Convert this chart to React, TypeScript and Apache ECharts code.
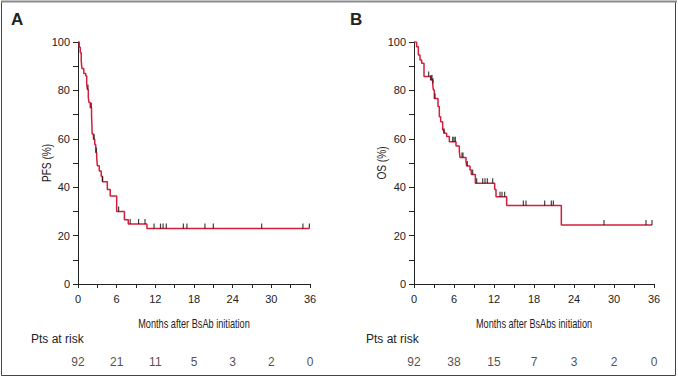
import React, { useEffect, useRef } from "react";
import * as echarts from "echarts";

// PFS (panel A) Kaplan-Meier steps
const pfsTimes = [0, 0.2, 0.35, 0.5, 0.6, 0.9, 1.2, 1.35, 1.45, 1.6, 1.7, 1.9, 2.1, 2.15, 2.2, 2.4, 2.6, 2.75, 2.9, 3.0, 3.3, 3.6, 3.8, 4.55, 5.0, 6.0, 7.2, 7.8, 10.7, 35.9];
const pfsSurv = [100, 97.8, 95.6, 92.4, 89.1, 87.0, 85.9, 82.6, 80.4, 77.2, 75.0, 72.8, 69.6, 66.3, 62.0, 59.8, 57.6, 54.3, 52.2, 48.9, 46.7, 44.5, 42.3, 39.1, 36.4, 30.0, 26.5, 24.8, 22.9, 22.9];
const pfsCensor = [1.55, 2.07, 2.5, 2.85, 3.8, 6.3, 8.1, 9.4, 10.4, 11.8, 12.8, 13.2, 13.7, 16.35, 16.9, 19.7, 21.0, 28.5, 34.9, 35.9];

// OS (panel B) Kaplan-Meier steps
const osTimes = [0, 0.4, 0.65, 0.9, 1.15, 1.5, 2.5, 2.8, 2.9, 3.05, 3.6, 3.8, 4.0, 4.3, 4.5, 4.9, 5.3, 6.3, 6.8, 6.9, 7.8, 7.9, 8.4, 8.6, 9.2, 12.1, 12.3, 13.9, 22.1, 35.7];
const osSurv = [100, 98, 94.6, 92.6, 91.2, 85.7, 84.3, 83.0, 80.2, 76.7, 73.3, 69.1, 67.0, 63.6, 62.3, 60.9, 58.8, 57.0, 54.7, 52.3, 50.5, 48.8, 47.1, 45.2, 41.6, 39.1, 36.1, 32.4, 24.4, 24.4];
const osCensor = [2.2, 2.55, 2.7, 2.85, 3.15, 4.5, 5.8, 6.0, 6.2, 7.2, 7.35, 8.0, 8.8, 9.4, 10.3, 10.65, 11.0, 11.8, 12.9, 13.2, 13.6, 16.4, 16.8, 19.6, 20.6, 20.9, 28.5, 34.8, 35.7];

// Numbers at risk
const riskTimes = [0, 6, 12, 18, 24, 30, 36];
const riskA = [92, 21, 11, 5, 3, 2, 0];
const riskB = [92, 38, 15, 7, 3, 2, 0];

const titleA = "Months after BsAb initiation";
const titleB = "Months after BsAbs initiation";
const yNameA = "PFS (%)";
const yNameB = "OS (%)";

const RED = "#d31f3c";
const TXT = "#222222";
const FONT = '"Liberation Sans", Arial, sans-serif';

function stepValue(times: number[], surv: number[], t: number) {
  let v = surv[0];
  for (let i = 0; i < times.length; i++) {
    if (times[i] <= t) v = surv[i];
  }
  return v;
}

function xAxisMain(gridIndex: number) {
  return {
    type: "value",
    gridIndex,
    min: 0,
    max: 36,
    interval: 3,
    axisLine: { show: true, lineStyle: { color: TXT, width: 1 } },
    axisTick: { show: true, length: 4, lineStyle: { color: TXT } },
    axisLabel: {
      color: TXT,
      fontSize: 11,
      fontFamily: FONT,
      margin: 9,
      formatter: (v: number) => (v % 6 === 0 ? String(v) : ""),
    },
    splitLine: { show: false },
  };
}

function yAxisMain(gridIndex: number) {
  return {
    type: "value",
    gridIndex,
    min: 0,
    max: 100,
    interval: 10,
    axisLine: { show: true, lineStyle: { color: TXT, width: 1 } },
    axisTick: { show: true, length: 5, lineStyle: { color: TXT } },
    axisLabel: {
      color: TXT,
      fontSize: 11,
      fontFamily: FONT,
      margin: 8,
      formatter: (v: number) => (v % 20 === 0 ? String(v) : ""),
    },
    splitLine: { show: false },
  };
}

function hiddenX(gridIndex: number) {
  return { type: "value", gridIndex, min: 0, max: 36, show: false };
}
function hiddenY(gridIndex: number) {
  return { type: "value", gridIndex, min: 0, max: 1, show: false };
}

function kmSeries(idx: number, times: number[], surv: number[]) {
  return {
    type: "line",
    xAxisIndex: idx,
    yAxisIndex: idx,
    step: "end",
    symbol: "none",
    lineStyle: { color: RED, width: 1.5 },
    data: times.map((t, i) => [t, surv[i]]),
    z: 3,
  };
}

function censorSeries(idx: number, censor: number[], times: number[], surv: number[]) {
  return {
    type: "scatter",
    xAxisIndex: idx,
    yAxisIndex: idx,
    symbol: "rect",
    symbolSize: [1.2, 5],
    symbolOffset: [0, -2.5],
    itemStyle: { color: "#111" },
    data: censor.map((t) => [t, stepValue(times, surv, t)]),
    z: 4,
  };
}

function riskSeries(idx: number, values: number[]) {
  return {
    type: "scatter",
    xAxisIndex: idx,
    yAxisIndex: idx,
    symbolSize: 1,
    itemStyle: { color: "rgba(0,0,0,0)" },
    label: {
      show: true,
      position: "inside",
      color: TXT,
      fontSize: 12,
      fontFamily: FONT,
      formatter: (p: any) => String(p.value[2]),
    },
    data: riskTimes.map((t, i) => [t, 0.5, values[i]]),
  };
}

function narrowText(text: string, x: number, y: number, rotate: number, scaleX: number, size: number) {
  return {
    type: "text",
    x,
    y,
    rotation: rotate,
    scaleX,
    silent: true,
    style: {
      text,
      fontSize: size,
      fontFamily: FONT,
      fill: TXT,
      textAlign: "center",
      textVerticalAlign: "middle",
    },
  };
}

export default function App() {
  const ref = useRef<HTMLDivElement>(null);
  useEffect(() => {
    if (!ref.current) return;
    const chart = echarts.init(ref.current, null, { renderer: "svg" });
    chart.setOption({
      animation: false,
      backgroundColor: "#ffffff",
      grid: [
        { left: 78, top: 42, width: 232, height: 242 },
        { left: 414, top: 42, width: 240, height: 242 },
        { left: 78, top: 355, width: 232, height: 14 },
        { left: 414, top: 355, width: 240, height: 14 },
      ],
      xAxis: [xAxisMain(0), xAxisMain(1), hiddenX(2), hiddenX(3)],
      yAxis: [yAxisMain(0), yAxisMain(1), hiddenY(2), hiddenY(3)],
      series: [
        kmSeries(0, pfsTimes, pfsSurv),
        censorSeries(0, pfsCensor, pfsTimes, pfsSurv),
        kmSeries(1, osTimes, osSurv),
        censorSeries(1, osCensor, osTimes, osSurv),
        riskSeries(2, riskA),
        riskSeries(3, riskB),
      ],
      graphic: [
        {
          type: "rect",
          shape: { x: 1.5, y: 1.5, width: 674, height: 374 },
          style: { fill: "none", stroke: "#444", lineWidth: 1 },
          silent: true,
        },
        {
          type: "line",
          shape: { x1: 1, y1: 1.5, x2: 677, y2: 1.5 },
          style: { stroke: "#8a8a8a", lineWidth: 2 },
          silent: true,
        },
        narrowText(titleA, 194, 323, 0, 0.68, 13.5),
        narrowText(titleB, 534, 323, 0, 0.68, 13.5),
        narrowText(yNameA, 46, 163, Math.PI / 2, 0.75, 13.5),
        narrowText(yNameB, 381, 163, Math.PI / 2, 0.75, 13.5),
        {
          type: "text",
          left: 11,
          top: 11,
          style: { text: "A", fontSize: 17, fontWeight: "bold", fontFamily: FONT, fill: TXT },
        },
        {
          type: "text",
          left: 350,
          top: 11,
          style: { text: "B", fontSize: 17, fontWeight: "bold", fontFamily: FONT, fill: TXT },
        },
        {
          type: "text",
          left: 31,
          top: 333,
          style: { text: "Pts at risk", fontSize: 12, fontFamily: FONT, fill: TXT },
        },
        {
          type: "text",
          left: 366,
          top: 333,
          style: { text: "Pts at risk", fontSize: 12, fontFamily: FONT, fill: TXT },
        },
      ],
    });
    return () => chart.dispose();
  }, []);
  return (
    <div
      ref={ref}
      style={{ position: "fixed", left: 0, top: 0, width: 678, height: 378 }}
    />
  );
}
